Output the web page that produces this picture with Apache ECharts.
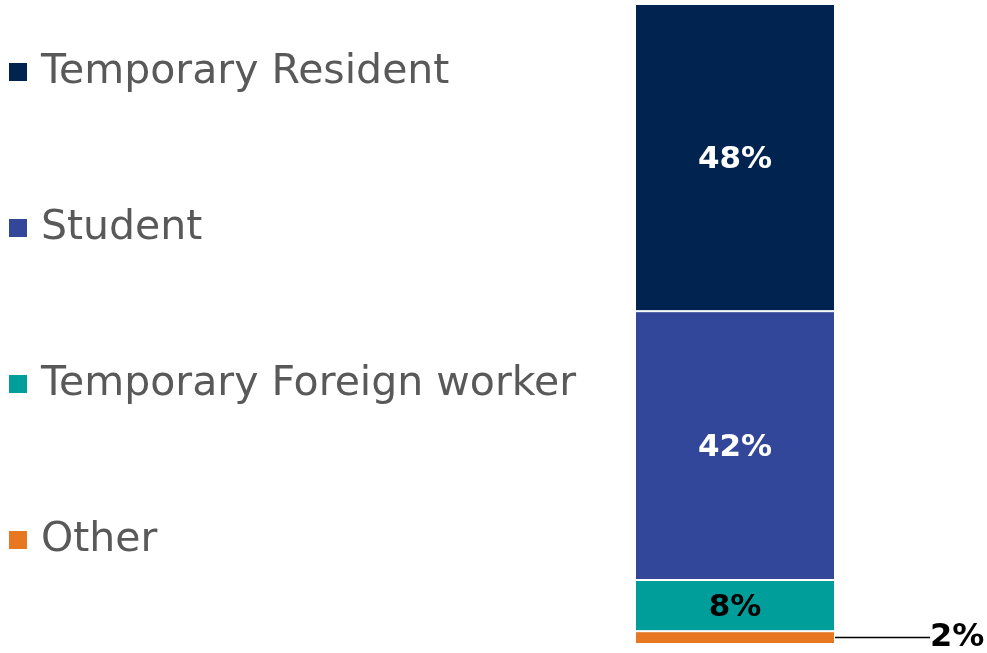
<!DOCTYPE html>
<html><head><meta charset="utf-8">
<script src="https://cdn.jsdelivr.net/npm/echarts@6/dist/echarts.min.js"></script>
<style>html,body{margin:0;padding:0;background:#fff}#c{width:987px;height:653px}</style>
</head><body><div id="c"></div>
<script>
const categories = ['Status'];
const seriesNames = ['Temporary Resident', 'Student', 'Temporary Foreign worker', 'Other'];
const temporaryResident = [48];
const student = [42];
const foreignWorker = [8];
const other = [2];
const colors = {'Temporary Resident':'#00234F','Student':'#32469A','Temporary Foreign worker':'#009E9B','Other':'#E87722'};

const FONT = 'DejaVu Sans';
const chart = echarts.init(document.getElementById('c'), null, {renderer:'canvas'});
function mk(name, data, label){
  return {name, type:'bar', stack:'s', data, barWidth:'100%',
    itemStyle:{color:colors[name], borderColor:'#fff', borderWidth:1},
    label, emphasis:{disabled:true}};
}
const inside = (c)=>({show:true, position:'inside', formatter:'{c}%', color:c, fontFamily:FONT, fontWeight:'bold', fontSize:31, offset:[0,2]});
chart.setOption({
  animation:false,
  grid:{left:635, width:200, top:4, height:640},
  xAxis:{type:'category', data:categories, show:false},
  yAxis:{type:'value', min:0, max:100, show:false},
  legend:{orient:'vertical', left:7, top:48, padding:0, itemWidth:20, itemHeight:20, itemGap:108,
    icon:'rect', selectedMode:false, data:seriesNames,
    textStyle:{fontFamily:FONT, fontSize:41, color:'#595959', lineHeight:48, padding:[0,0,0,8]}},
  series:[
    mk('Other', other, {show:true, position:'right', distance:95, formatter:'{c}%', color:'#000', fontFamily:FONT, fontWeight:'bold', fontSize:32}),
    mk('Temporary Foreign worker', foreignWorker, inside('#000')),
    mk('Student', student, inside('#fff')),
    mk('Temporary Resident', temporaryResident, inside('#fff'))
  ]
});
chart.setOption({series:[{labelLine:{show:true, lineStyle:{color:'#000', width:1.5}}}]});
</script></body></html>
